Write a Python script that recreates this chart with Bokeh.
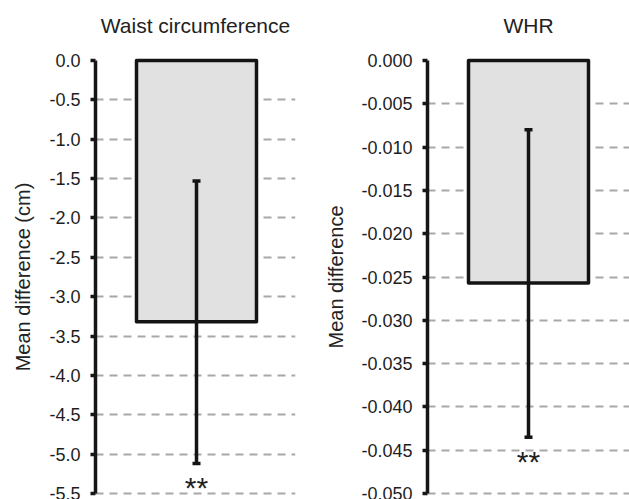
from bokeh.plotting import figure
from bokeh.layouts import row
from bokeh.models import (Range1d, FixedTicker, Label, Whisker, ColumnDataSource, TeeHead,
                          LinearAxis)
from bokeh.embed import file_html
from bokeh.resources import INLINE

# ---- data ----
measures = ["Waist circumference", "WHR"]
axis_labels = ["Mean difference (cm)", "Mean difference"]
mean_diff = [-3.32, -0.0257]
ci_upper = [-1.53, -0.0080]
ci_lower = [-5.12, -0.0435]
significance = ["**", "**"]
ticks_waist = [0.0, -0.5, -1.0, -1.5, -2.0, -2.5, -3.0, -3.5, -4.0, -4.5, -5.0, -5.5]
tick_labels_waist = ["0.0", "-0.5", "-1.0", "-1.5", "-2.0", "-2.5", "-3.0", "-3.5",
                     "-4.0", "-4.5", "-5.0", "-5.5"]
ticks_whr = [0.0, -0.005, -0.010, -0.015, -0.020, -0.025, -0.030, -0.035,
             -0.040, -0.045, -0.050]
tick_labels_whr = ["0.000", "-0.005", "-0.010", "-0.015", "-0.020", "-0.025", "-0.030",
                   "-0.035", "-0.040", "-0.045", "-0.050"]

FONT = "Liberation Sans"
H = 499
FRAME_TOP = 54   # frame top pixel row (frame runs to the bottom edge)
TOP_PX = 60      # pixel row of the top tick
SPAN_PX = 433    # pixels between top and bottom tick


def make_panel(idx, ticks, tick_labels, width, border_left, border_right, x_start, x_end,
               label_standoff):
    ymin, ymax = ticks[-1], ticks[0]
    ppu = SPAN_PX / (ymax - ymin)
    y_top = ymax + (TOP_PX - FRAME_TOP) / ppu
    y_bot = ymax - (H - TOP_PX) / ppu
    p = figure(width=width, height=H, output_backend="svg", toolbar_location=None,
               x_range=Range1d(x_start, x_end), y_range=Range1d(y_bot, y_top),
               min_border_left=border_left, min_border_right=border_right,
               min_border_top=FRAME_TOP, min_border_bottom=0)
    p.outline_line_color = None
    p.xaxis.visible = False
    p.xgrid.visible = False
    p.background_fill_color = "white"
    p.border_fill_color = "white"

    # panel heading drawn as the label of a bare axis above the frame
    top_axis = LinearAxis(ticker=FixedTicker(ticks=[]), axis_line_color=None,
                          major_tick_line_color=None, minor_tick_line_color=None,
                          major_tick_out=0, major_tick_in=0, minor_tick_out=0,
                          minor_tick_in=0, major_label_standoff=0,
                          axis_label=measures[idx], axis_label_standoff=18,
                          axis_label_text_font=FONT, axis_label_text_font_size="21px",
                          axis_label_text_font_style="normal",
                          axis_label_text_color="#222222")
    p.add_layout(top_axis, "above")

    yax = p.yaxis[0]
    yax.ticker = FixedTicker(ticks=ticks)
    yax.major_label_overrides = {t: l for t, l in zip(ticks, tick_labels)}
    yax.bounds = (ymin, ymax)
    yax.axis_line_width = 3.5
    yax.axis_line_color = "#161616"
    yax.major_tick_line_width = 3.5
    yax.major_tick_line_color = "#161616"
    yax.major_tick_out = 5
    yax.major_tick_in = 0
    yax.minor_tick_line_color = None
    yax.major_label_text_font = FONT
    yax.major_label_text_font_size = "18px"
    yax.major_label_text_color = "#1e1e1e"
    yax.major_label_standoff = 10
    yax.axis_label = axis_labels[idx]
    yax.axis_label_text_font = FONT
    yax.axis_label_text_font_size = "20px"
    yax.axis_label_text_font_style = "normal"
    yax.axis_label_text_color = "#222222"
    yax.axis_label_standoff = label_standoff

    p.ygrid.ticker = FixedTicker(ticks=ticks[1:])
    p.ygrid.grid_line_color = "#a8a8a8"
    p.ygrid.grid_line_width = 2
    p.ygrid.grid_line_dash = "8 6"

    xs = [1]
    p.vbar(x=xs, top=[0], bottom=[mean_diff[idx]], width=0.6,
           fill_color="#e1e1e1", line_color="#141414", line_width=3.5, line_join="round")

    src = ColumnDataSource(dict(base=xs, upper=[ci_upper[idx]], lower=[ci_lower[idx]]))
    w = Whisker(source=src, base="base", upper="upper", lower="lower", dimension="height",
                line_width=3.5, line_color="#141414", level="overlay",
                upper_head=TeeHead(size=8, line_width=3.5, line_color="#141414"),
                lower_head=TeeHead(size=8, line_width=3.5, line_color="#141414"))
    p.add_layout(w)

    p.add_layout(Label(x=1, y=ci_lower[idx], y_offset=-24, text=significance[idx],
                       text_align="center", text_baseline="middle", text_font=FONT,
                       text_font_size="30px", text_color="#222222"))
    return p


p1 = make_panel(0, ticks_waist, tick_labels_waist, 318, 95, 23, 0.495, 1.495, 12)
p2 = make_panel(1, ticks_whr, tick_labels_whr, 311, 109, 0, 0.495, 1.505, 11)

layout = row(p1, p2)
open("out.html", "w").write(file_html(layout, INLINE))
